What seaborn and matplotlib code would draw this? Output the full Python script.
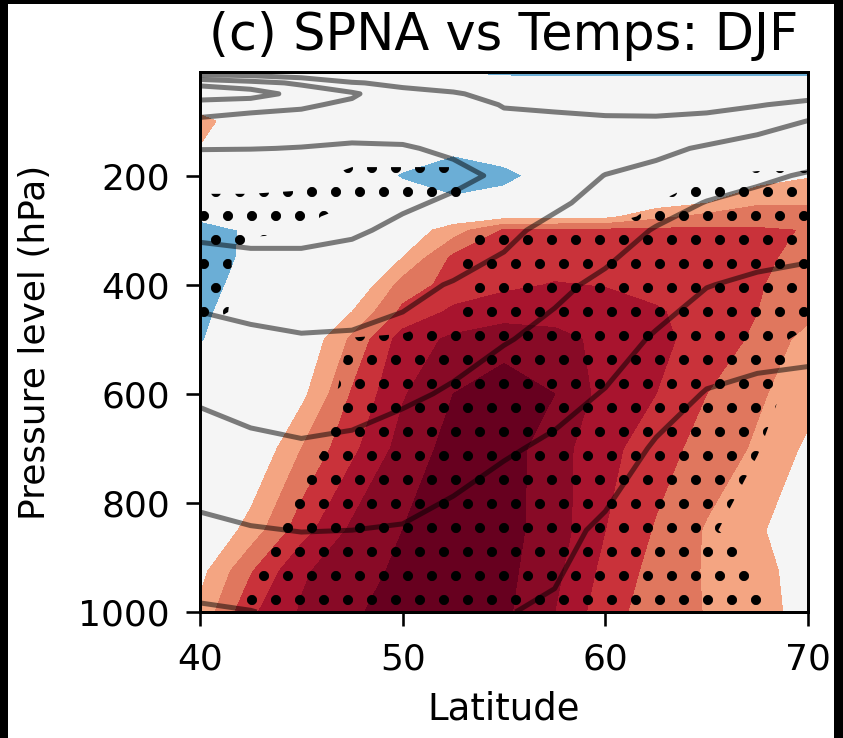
import numpy as np
import matplotlib
matplotlib.use("Agg")
import matplotlib.pyplot as plt
import seaborn as sns
from matplotlib.patches import Rectangle

sns.set_theme(style="ticks")
plt.rcParams['font.family'] = ['DejaVu Sans']
plt.rcParams['hatch.color'] = 'black'
plt.rcParams['patch.edgecolor'] = 'black'
plt.rcParams['hatch.linewidth'] = 2.6

# ---------------- data ----------------
lats = [40, 42.5, 45, 47.5, 50, 52.5, 55, 57.5, 60, 62.5, 65, 67.5, 70]

# regression of temperature on SPNA index (shaded), rows = pressure levels
shade_plev = [10, 20, 50, 100, 150, 200, 250, 275, 300, 350, 400, 450, 500, 600, 700, 850, 925, 1000]
shade_vals = [
    [0.0, 0.0, 0.0, 0.0, -0.5, -1.1, -1.5, -1.6, -1.6, -1.6, -1.6, -1.6, -1.6],
    [0.0, 0.0, 0.0, 0.0, -0.2, -0.6, -0.8, -0.9, -0.9, -0.9, -0.9, -0.9, -0.9],
    [-0.9, 0.0, 0.0, 0.0, 0.0, -0.1, -0.2, -0.2, -0.2, -0.2, -0.2, -0.2, -0.2],
    [1.6, -0.3, 0.0, 0.0, 0.0, -0.1, -0.1, 0.0, 0.0, 0.0, 0.0, 0.0, 0.0],
    [0.9, -0.1, 0.0, -0.1, -0.4, -0.7, -0.4, -0.1, 0.0, 0.0, 0.0, 0.0, 0.0],
    [0.0, 0.0, -0.1, -0.3, -1.1, -1.8, -1.3, -0.5, 0.0, 0.1, 0.3, 0.4, 0.9],
    [-0.5, -0.2, 0.0, 0.0, -0.4, -0.7, -0.5, -0.3, 0.2, 0.5, 0.95, 1.9, 1.9],
    [-0.7, -0.4, -0.2, -0.1, -0.2, 0.3, 0.6, 0.6, 0.7, 1.7, 2.3, 2.4, 2.4],
    [-1.6, -0.8, -0.3, 0.0, 0.3, 1.5, 3.1, 3.15, 3.2, 3.2, 3.2, 3.15, 2.95],
    [-1.5, -0.8, -0.4, -0.1, 1.0, 3.2, 3.4, 3.6, 3.5, 3.4, 3.3, 3.1, 2.85],
    [-1.3, -0.7, -0.4, -0.1, 2.4, 3.4, 3.8, 4.05, 3.95, 3.7, 3.4, 3.05, 2.7],
    [-1.15, -0.6, -0.3, 1.0, 3.25, 4.2, 4.55, 4.6, 4.45, 4.1, 3.6, 3.0, 2.3],
    [-1.05, -0.5, 0.0, 2.2, 4.45, 5.2, 5.6, 5.3, 4.75, 4.25, 3.6, 2.8, 1.6],
    [-0.6, -0.4, 0.7, 3.1, 4.9, 6.0, 6.5, 6.0, 4.6, 4.0, 3.0, 2.15, 1.4],
    [-0.5, -0.1, 2.0, 3.75, 5.4, 6.35, 6.5, 5.4, 4.3, 3.45, 2.6, 1.85, 0.8],
    [-0.2, 1.4, 3.55, 5.2, 6.0, 6.55, 6.35, 5.5, 4.0, 2.9, 1.9, 1.1, 0.5],
    [0.65, 2.9, 4.85, 5.6, 6.2, 6.6, 6.3, 5.25, 3.7, 2.65, 1.9, 1.25, 0.65],
    [1.25, 3.8, 5.1, 5.9, 6.3, 6.6, 6.2, 5.0, 3.4, 2.5, 1.95, 1.3, 0.7],
]
shade_levels = [-10, -1, 1, 2, 3, 4, 5, 6, 10]
shade_colors = ['#6baed6', '#f5f5f5', '#f4a582', '#e0775e', '#c9323a',
                '#a8142e', '#880a26', '#67001f']

# significance (stippled where > 0.5), same grid as shading
sig_vals = [
    [-1] * 13,
    [-1] * 13,
    [-1] * 13,
    [-1] * 13,
    [-1, -1, -1, -0.6, -0.6, -0.6, -1, -1, -1, -1, -1, -0.5, -0.5],
    [-0.5, -0.5, -0.1, 1, 1, 1, -1, -1, -0.8, -0.5, 0.45, 0.7, 0.7],
    [1, 1, 1, 0.6, 0.6, 0.6, -0.5, -0.5, -0.3, 0.5, 1, 1, 1],
    [1, 1, 1, -0.3, -0.5, -0.5, -0.5, -0.5, -0.3, 1, 1, 1, 1],
    [1, 0.6, 0.6, -0.3, -1, 0.2, 0.8, 0.9, 1, 1, 1, 1, 1],
    [1, 0.2, -0.3, -1, -1, 0.4, 1, 1, 1, 1, 1, 1, 1],
    [1, 0.2, -0.5, -1, -1, 0.4, 1, 1, 1, 1, 1, 1, 0.9],
    [1, 0.1, -0.5, -1, -1.5, 0.4, 1, 1, 1, 1, 1, 1, 0.9],
    [0.2, -0.5, -0.5, 0.6, 1, 1, 1, 1, 1, 1, 1, 1, 0.2],
    [-0.5, -0.5, -0.2, 0.8, 1, 1, 1, 1, 1, 1, 1, 1, -0.1],
    [-0.5, -0.5, 0.1, 1, 1, 1, 1, 1, 1, 1, 1, 0.6, -1],
    [-0.5, 0.0, 1, 1, 1, 1, 1, 1, 1, 1, 0.8, -0.5, -1],
    [-0.5, 0.45, 1, 1, 1, 1, 1, 1, 1, 1, 1, 0.6, -1],
    [-0.2, 1, 1, 1, 1, 1, 1, 1, 1, 1, 1, 0.7, -0.5],
]
sig_levels = [0.5, 10]

# climatology contours (gray lines), one list per latitude column
line_plev = [10, 20, 30, 50, 70, 100, 150, 200, 250, 300, 400, 500, 600, 700, 850, 1000]
line_cols = [
    [5.5, 4.5, 3.15, 2.6, 3.3, 4.2, 4.95, 6.0, 6.0, 5.2, 4.3, 3.7, 3.1, 2.7, 1.8, 0.9],
    [5.6, 4.7, 3.7, 2.5, 3.7, 4.3, 4.97, 6.0, 6.0, 5.3, 4.4, 3.85, 3.25, 2.85, 1.95, 0.98],
    [5.7, 5.05, 4.15, 3.4, 3.85, 4.4, 5.03, 5.9, 5.9, 5.3, 4.4, 3.95, 3.45, 2.9, 2.02, 1.15],
    [5.8, 5.4, 4.95, 3.85, 4.2, 4.6, 5.1, 5.6, 5.5, 5.1, 4.5, 3.9, 3.4, 2.8, 2.0, 1.3],
    [5.9, 5.6, 5.15, 4.8, 4.5, 4.7, 5.05, 5.3, 5.1, 4.85, 4.2, 3.8, 3.15, 2.6, 1.95, 1.35],
    [6.0, 5.75, 5.5, 4.9, 4.6, 4.6, 4.9, 5.15, 4.9, 4.6, 3.95, 3.35, 2.9, 2.35, 1.75, 1.2],
    [6.1, 5.9, 5.7, 5.35, 5.05, 4.8, 4.85, 4.9, 4.75, 4.2, 3.7, 3.05, 2.6, 2.1, 1.45, 1.03],
    [6.2, 6.0, 5.8, 5.5, 5.2, 4.75, 4.6, 4.45, 4.15, 3.75, 3.15, 2.8, 2.3, 1.85, 1.25, 0.9],
    [6.3, 6.1, 5.9, 5.6, 5.3, 4.85, 4.45, 3.98, 3.7, 3.35, 2.85, 2.4, 1.95, 1.5, 0.85, 0.5],
    [6.4, 6.2, 6.0, 5.7, 5.35, 4.85, 4.2, 3.75, 3.3, 2.95, 2.5, 1.9, 1.4, 0.9, 0.4, 0.1],
    [6.5, 6.3, 6.1, 5.8, 5.3, 4.7, 3.9, 3.4, 2.97, 2.7, 2.03, 1.5, 0.95, 0.55, 0.2, -0.1],
    [6.6, 6.4, 6.1, 5.7, 5.05, 4.5, 3.5, 3.1, 2.85, 2.5, 1.85, 1.25, 0.85, 0.45, 0.1, -0.2],
    [6.7, 6.4, 6.0, 5.3, 4.8, 3.98, 3.3, 2.95, 2.6, 2.3, 1.8, 1.15, 0.85, 0.45, 0.1, -0.2],
]
line_levels = [1, 2, 3, 4, 5]

title = "(c) SPNA vs Temps: DJF"
xticks = [40, 50, 60, 70]
yticks = [200, 400, 600, 800, 1000]

# ---------------- figure ----------------
W, H, DPI = 843, 738, 144
fig = plt.figure(figsize=(W / DPI, H / DPI), dpi=DPI, facecolor='white')
ax = fig.add_axes([200 / W, 1 - 612 / H, 608 / W, 540 / H])

X, Y = np.meshgrid(lats, shade_plev)
ax.contourf(X, Y, np.array(shade_vals), levels=shade_levels, colors=shade_colors)
cs_sig = ax.contourf(X, Y, np.array(sig_vals), levels=sig_levels, colors='none',
                     hatches=['.'])
if hasattr(cs_sig, 'set_hatchcolor'):
    cs_sig.set_hatchcolor('black')
cs_sig._hatch_color = matplotlib.colors.to_rgba('black')
if hasattr(cs_sig, 'set_hatch_linewidth'):
    cs_sig.set_hatch_linewidth(2.6)
cs_sig._hatch_linewidth = 2.6
cs_sig.set_edgecolor('black')
cs_sig.set_linewidth(0)

XL, YL = np.meshgrid(lats, line_plev)
ax.contour(XL, YL, np.array(line_cols).T, levels=line_levels, colors='black',
           alpha=0.5, linewidths=2.5)

ax.set_xlim(40, 70)
ax.set_ylim(1000, 10)
ax.set_xticks(xticks)
ax.set_yticks(yticks)
ax.tick_params(length=7, width=1.3, labelsize=18, pad=8, color='black', labelcolor='black')
for s in ax.spines.values():
    s.set_linewidth(1.5)
    s.set_color('black')
ax.set_title(title, fontsize=25.5, pad=11, color='black')
ax.set_xlabel('Latitude', fontsize=18.5, labelpad=7, color='black')
ax.set_ylabel('Pressure level (hPa)', fontsize=18, labelpad=13, color='black')

# dark frame strips around the picture
for (x0, y0, w, h) in [(0, 0, 7 / W, 1), (835 / W, 0, 1 - 835 / W, 1), (0, 1 - 3 / H, 1, 3 / H)]:
    fig.add_artist(Rectangle((x0, y0), w, h, transform=fig.transFigure,
                             color='black', zorder=0))

fig.savefig('out.png', dpi=DPI, facecolor='white')
